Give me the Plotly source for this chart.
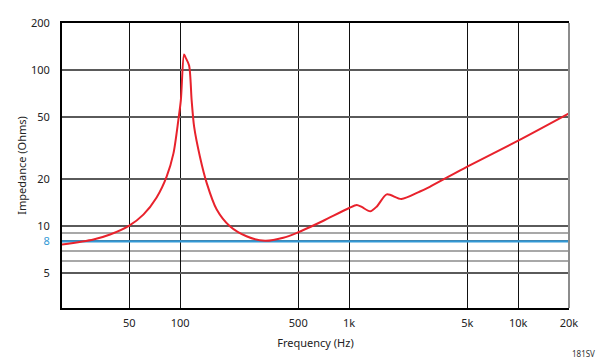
import plotly.graph_objects as go

# Impedance curve
freq_hz = [20, 30.7, 38.5, 50, 60.6, 72.6, 83.2, 91.3, 97.6, 101, 105.4, 107.4,
           113, 117, 121, 131, 143.7, 164.6, 197, 247, 318, 408, 500, 588, 704,
           1000, 1109, 1187, 1332, 1460, 1670, 2038, 2625, 3000, 5000, 10000, 20000]
impedance_ohm = [7.64, 8.23, 8.86, 10.1, 11.87, 15.3, 20.8, 29.3, 47.8, 64.2, 125.8, 121,
                 107, 64, 43.4, 27.9, 18.9, 12.8, 10.0, 8.63, 8.07, 8.44, 9.16, 9.9, 10.85,
                 13.1, 13.7, 13.3, 12.46, 13.4, 16.0, 14.95, 16.7, 17.9, 24.1, 35.3, 52.8]

x_range_hz = [20, 20000]
x_tickvals = [50, 100, 500, 1000, 5000, 10000, 20000]
x_ticktext = ["50", "100", "500", "1k", "5k", "10k", "20k"]
y_tickvals = [5, 8, 10, 20, 50, 100, 200]
y_minor_grid = [6, 7, 9]
nominal_impedance = 8

BLUE = "#3399d6"
RED = "#e8222c"
FONT = "Noto Sans"

y_ticktext = [f"<span style='color:{BLUE}'>{v}</span>" if v == nominal_impedance else str(v)
              for v in y_tickvals]

fig = go.Figure()
# nominal impedance reference line (a trace so it sits above the gridlines)
fig.add_trace(go.Scatter(
    x=x_range_hz, y=[nominal_impedance, nominal_impedance], mode="lines",
    line=dict(color=BLUE, width=2.2), showlegend=False, hoverinfo="skip",
))
fig.add_trace(go.Scatter(
    x=freq_hz, y=impedance_ohm, mode="lines",
    line=dict(color=RED, width=2, shape="spline", smoothing=0.75),
    showlegend=False, hoverinfo="x+y",
))

fig.add_shape(type="line", xref="paper", x0=1, x1=1, yref="paper", y0=0, y1=1,
              line=dict(color="#8c8c8c", width=2))

fig.update_layout(
    width=600, height=364,
    margin=dict(l=62, r=31, t=23, b=56),
    paper_bgcolor="white", plot_bgcolor="white",
    font=dict(family=FONT, size=11, color="#222"),
    xaxis=dict(
        type="log", range=[1.30103, 4.30103], automargin=False,
        tickvals=x_tickvals, ticktext=x_ticktext,
        showgrid=True, gridcolor="#111", gridwidth=1,
        showline=True, linecolor="#000", linewidth=2, mirror=True,
        ticks="", ticklabelstandoff=4,
        title=dict(text="Frequency (Hz)", font=dict(size=11), standoff=10),
        zeroline=False,
    ),
    yaxis=dict(
        type="log", range=[0.4771, 2.30103], automargin=False,
        tickvals=y_tickvals, ticktext=y_ticktext,
        showgrid=True, gridcolor="#5a5a5a", gridwidth=1.8,
        minor=dict(tickvals=y_minor_grid, showgrid=True, gridcolor="#a8a8a8", gridwidth=1.8, ticks=""),
        showline=True, linecolor="#000", linewidth=2, mirror=False,
        ticks="", ticklabelstandoff=8,
        title=dict(text="Impedance (Ohms)", font=dict(size=11), standoff=2),
        zeroline=False,
    ),
    annotations=[dict(text="181SV", xref="paper", yref="paper", x=1.056, y=-0.16,
                      xanchor="right", yanchor="middle", showarrow=False,
                      font=dict(size=8, color="#333"))],
)

fig.write_html("out.html", config={"displayModeBar": False},
               post_script="document.body.style.margin='0';")
